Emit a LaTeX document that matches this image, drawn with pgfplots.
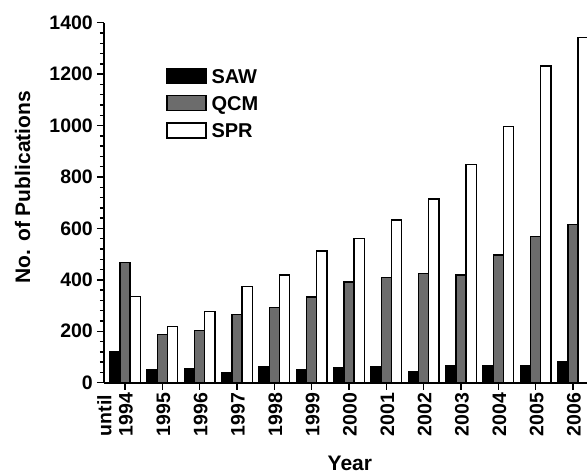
\documentclass[border=0pt]{standalone}
\usepackage{pgfplots}
\pgfplotsset{compat=1.18}
\usepackage{fontspec}
\setmainfont{Liberation Sans}
\definecolor{qcm}{RGB}{108,108,108}
\pgfplotsset{mylegend/.style={legend image code/.code={\draw[##1] (0bp,-7.5bp) rectangle (39bp,7.5bp);}}}
\begin{document}
\begin{tikzpicture}
\useasboundingbox (-104bp,-90.3bp) rectangle (483bp,382.7bp);
\begin{axis}[
  at={(0,0)}, anchor=south west,
  scale only axis, width=483bp, height=360bp,
  xmin=-0.5625, xmax=12.376,
  ymin=0, ymax=1400,
  axis x line*=bottom, axis y line*=left,
  axis line style={line width=1.8bp, black},
  ybar=0pt, bar width=10.2bp,
  clip=true,
  xtick={0,1,2,3,4,5,6,7,8,9,10,11,12},
  xticklabels={{\makebox[0pt][l]{\raisebox{1.1em}[0pt][0pt]{until}}1994},1995,1996,1997,1998,1999,2000,2001,2002,2003,2004,2005,2006},
  ytick={0,200,400,600,800,1000,1200,1400},
  minor y tick num=4,
  tick align=outside,
  major tick length=7bp, minor tick length=4bp,
  every tick/.style={line width=1.4bp, black},
  tick pos=left,
  /pgf/number format/assume math mode=true,
  /pgf/number format/1000 sep={},
  yticklabel style={font=\fontsize{19.5bp}{21bp}\selectfont\bfseries, inner sep=0pt, xshift=-4bp},
  xticklabel style={font=\fontsize{19.5bp}{21bp}\selectfont\bfseries, yshift=-3bp, xshift=1bp, rotate=90, anchor=east, inner sep=0pt},
  xlabel={Year}, ylabel={No. of Publications},
  xlabel style={font=\fontsize{21bp}{23bp}\selectfont\bfseries, at={(axis description cs:0.509,-0.223)}, anchor=center},
  ylabel style={font=\fontsize{21bp}{23bp}\selectfont\bfseries, at={(axis description cs:-0.1687,0.543)}, anchor=center, rotate=0},
  legend style={draw=none, fill=none, at={(axis description cs:0.1284,0.875)}, anchor=north west, inner sep=0pt,
    font=\fontsize{20bp}{22bp}\selectfont\bfseries,
    nodes={inner sep=0pt, text height=14.5bp, text depth=0.5bp},
    row sep=11bp, column sep=5bp},
  legend cell align=left,
]
\addplot[fill=black, draw=black, line width=1.3bp, mylegend]
  coordinates {(0,120) (1,52) (2,56) (3,39) (4,61) (5,49) (6,58) (7,62) (8,43) (9,66) (10,68) (11,68) (12,80)};
\addplot[fill=qcm, draw=black, line width=1.3bp, mylegend]
  coordinates {(0,468) (1,187) (2,202) (3,266) (4,292) (5,333) (6,392) (7,410) (8,424) (9,419) (10,497) (11,569) (12,616)};
\addplot[fill=white, draw=black, line width=1.3bp, mylegend]
  coordinates {(0,334) (1,218) (2,276) (3,373) (4,419) (5,512) (6,562) (7,633) (8,714) (9,849) (10,996) (11,1232) (12,1342)};
\legend{SAW,QCM,SPR}
\end{axis}
\end{tikzpicture}
\end{document}
